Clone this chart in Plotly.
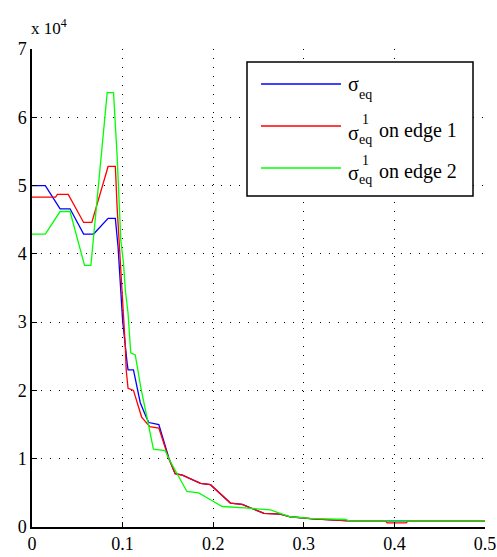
import plotly.graph_objects as go

# ---- data (values in raw units; axis shows x 10^4) ----
blue_x = [0, 0.0147, 0.031, 0.042, 0.057, 0.068, 0.084, 0.092, 0.095, 0.0976, 0.100, 0.105, 0.106,
          0.112, 0.1195, 0.126, 0.129, 0.140, 0.151, 0.158, 0.166, 0.186, 0.197, 0.219, 0.232,
          0.256, 0.274, 0.285, 0.31, 0.35, 0.5]
blue_y = [50000, 50000, 46600, 46600, 42900, 42900, 45200, 45200, 41000, 35700, 30300, 24000, 23000,
          23000, 18200, 16100, 15300, 15000, 10100, 7800, 7600, 6400, 6200, 3500, 3300,
          2000, 1900, 1500, 1200, 900, 900]

red_x = [0, 0.026, 0.028, 0.040, 0.057, 0.066, 0.084, 0.092, 0.094, 0.096, 0.099, 0.103, 0.104,
         0.106, 0.112, 0.121, 0.130, 0.140, 0.151, 0.158, 0.166, 0.186, 0.197, 0.219, 0.232,
         0.256, 0.274, 0.285, 0.31, 0.35, 0.39, 0.392, 0.413, 0.415, 0.5]
red_y = [48300, 48300, 48700, 48700, 44600, 44600, 52800, 52800, 46700, 42500, 34700, 26400, 23000,
         20300, 20000, 16100, 14700, 14500, 10000, 7800, 7600, 6400, 6200, 3500, 3300,
         2000, 1900, 1500, 1200, 900, 900, 600, 600, 900, 900]

green_x = [0, 0.0147, 0.031, 0.042, 0.058, 0.065, 0.083, 0.090, 0.094, 0.098, 0.101, 0.103, 0.106,
           0.108, 0.109, 0.114, 0.120, 0.129, 0.134, 0.147, 0.151, 0.171, 0.184, 0.197, 0.210,
           0.235, 0.263, 0.285, 0.307, 0.346, 0.35, 0.5]
green_y = [42900, 42900, 46200, 46200, 38300, 38300, 63600, 63600, 54200, 42000, 38600, 34700, 31300,
           27400, 25500, 25200, 20500, 14700, 11400, 11200, 10000, 5200, 5000, 4000, 3000,
           2800, 2500, 1500, 1270, 1100, 900, 900]

x_ticks = [0, 0.1, 0.2, 0.3, 0.4, 0.5]
x_tick_labels = ["0", "0.1", "0.2", "0.3", "0.4", "0.5"]
y_ticks = [0, 10000, 20000, 30000, 40000, 50000, 60000, 70000]
y_tick_labels = ["0", "1", "2", "3", "4", "5", "6", "7"]

series_names = ["σ", "σ", "σ"]
series_colors = ["#0000ff", "#ff0000", "#00ff00"]
edge_labels = ["", "on edge 1", "on edge 2"]

FONT = "Liberation Serif, Times New Roman, DejaVu Serif, serif"

fig = go.Figure()
for xs, ys, c in [(blue_x, blue_y, series_colors[0]), (red_x, red_y, series_colors[1]),
                  (green_x, green_y, series_colors[2])]:
    fig.add_trace(go.Scatter(x=xs, y=ys, mode="lines", line=dict(color=c, width=1.3),
                             showlegend=False, hoverinfo="skip"))

W, H = 497, 557
L, R, T, B = 32, 12, 49, 30
pw, ph = W - L - R, H - T - B

def px(x):
    return (x - L) / pw

def py(y):
    return (H - B - y) / ph

shapes = [dict(type="rect", xref="paper", yref="paper", x0=px(247), x1=px(473), y0=py(196), y1=py(62),
               line=dict(color="black", width=1.5), fillcolor="white", layer="above")]
rows = [84, 126, 168]
annotations = []
for i, r in enumerate(rows):
    shapes.append(dict(type="line", xref="paper", yref="paper", x0=px(261), x1=px(341), y0=py(r), y1=py(r),
                       line=dict(color=series_colors[i], width=1.5), layer="above"))
    sig_mid = [84, 133, 173][i]
    eq_mid = [94, 139, 179][i]
    annotations.append(dict(text=series_names[i], xref="paper", yref="paper", x=px(346), y=py(sig_mid),
                            xanchor="left", yanchor="middle", showarrow=False,
                            font=dict(family=FONT, size=20, color="black")))
    annotations.append(dict(text="eq", xref="paper", yref="paper", x=px(357), y=py(eq_mid),
                            xanchor="left", yanchor="middle", showarrow=False,
                            font=dict(family=FONT, size=14, color="black")))
    if i > 0:
        annotations.append(dict(text="1", xref="paper", yref="paper", x=px(360), y=py(sig_mid - 13),
                                xanchor="left", yanchor="middle", showarrow=False,
                                font=dict(family=FONT, size=14, color="black")))
        annotations.append(dict(text=edge_labels[i], xref="paper", yref="paper", x=px(377), y=py(sig_mid - 2),
                                xanchor="left", yanchor="middle", showarrow=False,
                                font=dict(family=FONT, size=20, color="black")))

annotations.append(dict(text="x 10<sup>4</sup>", xref="paper", yref="paper", x=px(29), y=py(40),
                        xanchor="left", yanchor="bottom", showarrow=False,
                        font=dict(family=FONT, size=17, color="black")))

axis_common = dict(showline=True, linecolor="black", linewidth=1.5, ticks="inside", ticklen=5,
                   tickcolor="black", tickwidth=1, showgrid=True, gridcolor="black", gridwidth=1,
                   griddash="1px,8px", zeroline=False, mirror=False, automargin=False,
                   tickfont=dict(family=FONT, size=18, color="black"))

fig.update_layout(
    width=W, height=H,
    margin=dict(l=L, r=R, t=T, b=B),
    paper_bgcolor="white", plot_bgcolor="white",
    font=dict(family=FONT),
    xaxis=dict(range=[0, 0.5], tickvals=x_ticks, ticktext=x_tick_labels, **axis_common),
    yaxis=dict(range=[0, 70000], tickvals=y_ticks, ticktext=y_tick_labels, **axis_common),
    shapes=shapes, annotations=annotations, showlegend=False,
)

fig.write_html("out.html", config={"displayModeBar": False},
               post_script="document.body.style.margin='0px';")
